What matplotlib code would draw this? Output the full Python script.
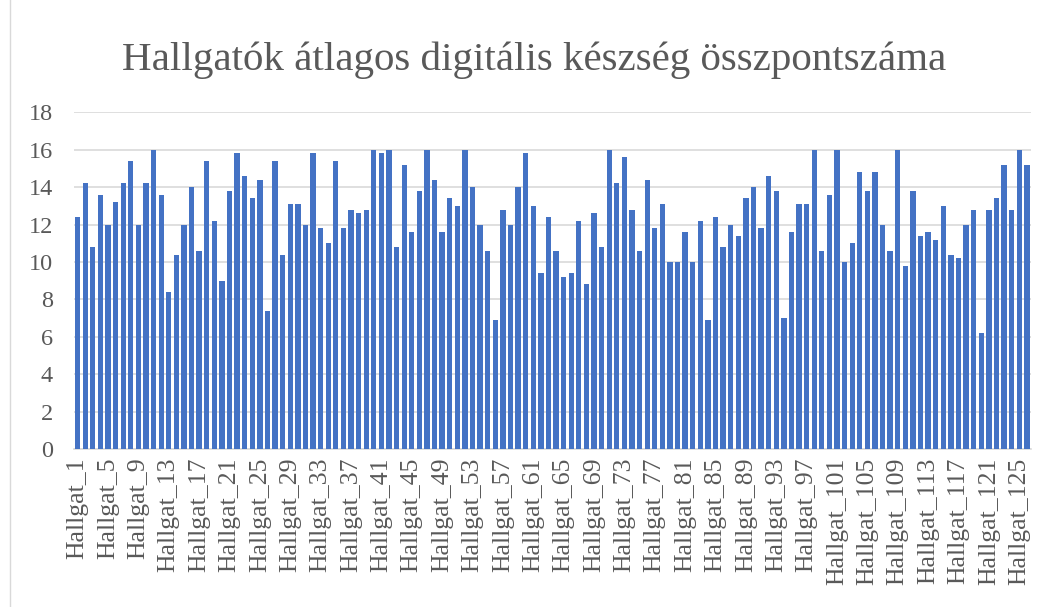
import matplotlib.pyplot as plt
from matplotlib.lines import Line2D

plt.switch_backend('Agg')

# Average digital skill score per student
scores = [
    12.4, 14.2, 10.8, 13.6, 12.0, 13.2, 14.2, 15.4, 12.0, 14.2,
    16.0, 13.6, 8.4, 10.4, 12.0, 14.0, 10.6, 15.4, 12.2, 9.0,
    13.8, 15.8, 14.6, 13.4, 14.4, 7.4, 15.4, 10.4, 13.1, 13.1,
    12.0, 15.8, 11.8, 11.0, 15.4, 11.8, 12.8, 12.6, 12.8, 16.0,
    15.8, 16.0, 10.8, 15.2, 11.6, 13.8, 16.0, 14.4, 11.6, 13.4,
    13.0, 16.0, 14.0, 12.0, 10.6, 6.9, 12.8, 12.0, 14.0, 15.8,
    13.0, 9.4, 12.4, 10.6, 9.2, 9.4, 12.2, 8.8, 12.6, 10.8,
    16.0, 14.2, 15.6, 12.8, 10.6, 14.4, 11.8, 13.1, 10.0, 10.0,
    11.6, 10.0, 12.2, 6.9, 12.4, 10.8, 12.0, 11.4, 13.4, 14.0,
    11.8, 14.6, 13.8, 7.0, 11.6, 13.1, 13.1, 16.0, 10.6, 13.6,
    16.0, 10.0, 11.0, 14.8, 13.8, 14.8, 12.0, 10.6, 16.0, 9.8,
    13.8, 11.4, 11.6, 11.2, 13.0, 10.4, 10.2, 12.0, 12.8, 6.2,
    12.8, 13.4, 15.2, 12.8, 16.0, 15.2,
]
students = [f'Hallgat_{i}' for i in range(1, len(scores) + 1)]
y_ticks = [0, 2, 4, 6, 8, 10, 12, 14, 16, 18]

text_color = '#595959'
serif = ['Liberation Serif', 'DejaVu Serif']

fig = plt.figure(figsize=(10.4, 6.07), dpi=100)
ax = fig.add_axes([0.071, 0.260, 0.920, 0.555])

x = range(len(scores))
ax.bar(x, scores, width=0.7, color='#4472C4', zorder=3)

ax.set_xlim(-0.5, len(scores) - 0.5)
ax.set_ylim(0, 18)
ax.set_yticks(y_ticks)
ax.set_yticklabels([str(v) for v in y_ticks], fontsize=17.5, color=text_color, family=serif)

# every fourth student gets a label, like the category axis in Excel
ax.set_xticks(list(x)[::4])
ax.set_xticklabels(students[::4], rotation=90, fontsize=18.5, color=text_color, family=serif)

ax.tick_params(axis='both', length=0)
ax.tick_params(axis='y', pad=15)
ax.tick_params(axis='x', pad=6)

ax.grid(axis='y', color='#d9d9d9', linewidth=1.2, zorder=0)
ax.grid(False, axis='x')
for side in ('top', 'right', 'left'):
    ax.spines[side].set_visible(False)
ax.spines['bottom'].set_color('#d9d9d9')
ax.spines['bottom'].set_linewidth(1.2)

fig.text(0.514, 0.901, 'Hallgatók átlagos digitális készség összpontszáma',
         ha='center', va='center', fontsize=29.5, color=text_color, family=serif)

# thin chart-area border on the left
fig.add_artist(Line2D([0.01, 0.01], [0.0, 1.0], color='#d9d9d9', linewidth=1.0))

fig.savefig('out.png', dpi=100)
plt.close(fig)
